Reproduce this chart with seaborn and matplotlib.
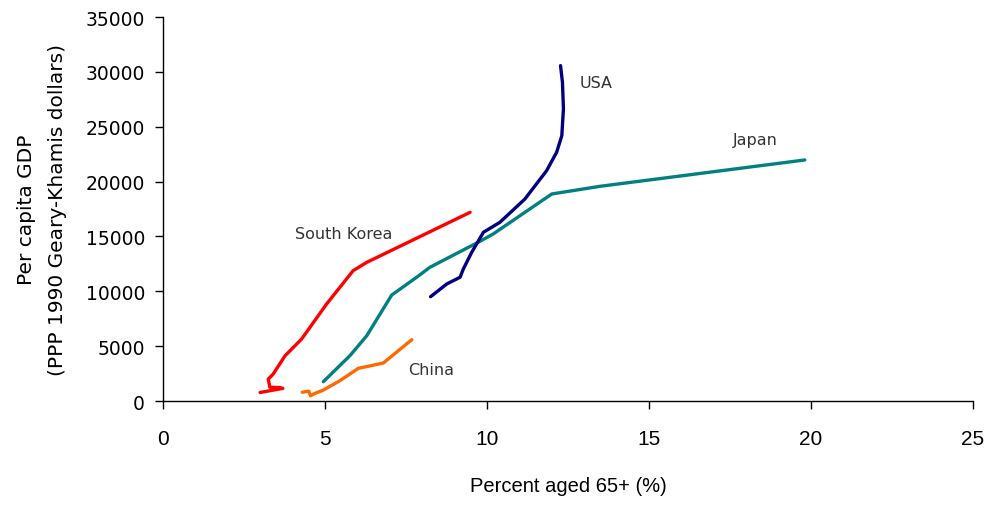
import matplotlib
matplotlib.use("Agg")
import matplotlib.pyplot as plt
import seaborn as sns
import pandas as pd

# ---- data ----
korea_x = [3.0, 3.7, 3.6, 3.3, 3.25, 3.4, 3.77, 4.28, 5.05, 5.87, 6.29, 9.48]
korea_y = [780, 1150, 1230, 1250, 2000, 2450, 4130, 5650, 8840, 11880, 12640, 17200]

china_x = [4.3, 4.5, 4.55, 4.7, 4.95, 5.46, 6.03, 6.80, 7.68]
china_y = [800, 900, 480, 700, 1000, 1850, 2980, 3460, 5590]

japan_x = [4.95, 5.77, 6.29, 7.06, 7.83, 8.24, 9.73, 10.19, 12.0, 13.49, 19.81]
japan_y = [1760, 4130, 5950, 9660, 11280, 12190, 14470, 15220, 18870, 19570, 21970]

usa_x = [8.26, 8.76, 9.11, 9.17, 9.27, 9.53, 9.89, 10.40, 11.17, 11.84, 12.15, 12.31, 12.36, 12.33, 12.27]
usa_y = [9510, 10670, 11190, 11280, 12030, 13560, 15380, 16290, 18410, 20990, 22670, 24180, 26620, 29050, 30570]

countries = ["South Korea", "China", "Japan", "USA"]
colors = ["#FF0000", "#FF6A00", "#008080", "#000080"]
label_pos_x = [5.59, 8.27, 18.27, 13.36]
label_pos_y = [15300, 2900, 23880, 28990]

xticks = [0, 5, 10, 15, 20, 25]
yticks = [0, 5000, 10000, 15000, 20000, 25000, 30000, 35000]

xs = [korea_x, china_x, japan_x, usa_x]
ys = [korea_y, china_y, japan_y, usa_y]

rows = []
for c, xx, yy in zip(countries, xs, ys):
    for i, (a, b) in enumerate(zip(xx, yy)):
        rows.append({"country": c, "order": i, "x": a, "y": b})
df = pd.DataFrame(rows)

sns.set_style("white")
plt.rcParams["font.family"] = ["DejaVu Sans"]

fig = plt.figure(figsize=(9.87, 5.06), dpi=100)
ax = fig.add_axes([0.1651, 0.2055, 0.8207, 0.7589])

sns.lineplot(data=df, x="x", y="y", hue="country", hue_order=countries,
             palette=dict(zip(countries, colors)), sort=False, estimator=None,
             linewidth=2.4, legend=False, ax=ax)

for c, lx, ly in zip(countries, label_pos_x, label_pos_y):
    ax.text(lx, ly, c, fontsize=11.5, color="#333333", ha="center", va="center")

ax.set_xlim(0, 25)
ax.set_ylim(0, 35000)
ax.set_xticks(xticks)
ax.set_yticks(yticks)
ax.tick_params(axis="both", direction="out", length=6, width=1, colors="black",
               bottom=True, left=True)
ax.tick_params(axis="y", labelsize=13.5, pad=7)
ax.tick_params(axis="x", labelsize=15, pad=14)
for lab in ax.get_xticklabels():
    lab.set_family("Liberation Sans")
for s in ["top", "right"]:
    ax.spines[s].set_visible(False)
for s in ["left", "bottom"]:
    ax.spines[s].set_color("black")
    ax.spines[s].set_linewidth(1)

ax.set_xlabel("Percent aged 65+ (%)", fontsize=14.5, labelpad=20,
              family="Liberation Sans", color="black")
ax.set_ylabel("Per capita GDP\n(PPP 1990 Geary-Khamis dollars)", fontsize=14.5,
              labelpad=13, linespacing=1.8, color="black")

fig.savefig("out.png", dpi=100)
